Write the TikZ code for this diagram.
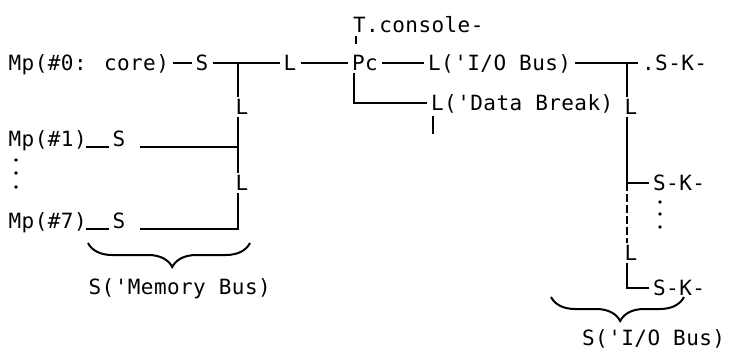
\documentclass[tikz,border=0pt]{standalone}
\usepackage{fontspec}
\usepackage{tikz}
\usetikzlibrary{calc, decorations.pathreplacing}
\newfontfamily\typ{DejaVu Sans Mono}[LetterSpace=2, Ligatures=TeXOff]
\newcommand\typsize{\fontsize{21pt}{24pt}\selectfont}
\tikzset{
    pmsbox/.style={font=\typ\typsize, inner xsep=4pt, inner ysep=0pt,
        text height=15pt, text depth=0pt, anchor=west},
    linkbox/.style={pmsbox, inner ysep=2pt, anchor=center},
    busline/.style={line width=2pt},
    busbrace/.style={line width=2pt, decorate,
        decoration={brace, mirror, amplitude=24pt, aspect=0.52}}
}

\begin{document}
\begin{tikzpicture}[x=1pt, y=-1pt]
    \useasboundingbox (0,0) rectangle (729,350);
    % --- 1. 行高與匯流排位置 ---
    \def\yT{25}
    \def\yA{63}
    \def\yB{103}
    \def\yC{139}
    \def\yD{221}
    \def\xM{238}
    \def\xI{627}

    % --- 2. 第一行: Mp, S, L, Pc, L, S-K ---
    \node[pmsbox] (tcon) at (349,\yT) {T.console-};
    \node[pmsbox] (mp0) at (4.5,\yA) {Mp(\#0: core)};
    \node[pmsbox] (s0) at (191.5,\yA) {S};
    \coordinate (mb0) at (\xM,\yA);
    \node[pmsbox] (l0) at (279.5,\yA) {L};
    \node[pmsbox] (pc) at (348,\yA) {Pc};
    \node[pmsbox] (lio) at (424,\yA) {L('I/O Bus)};
    \coordinate (iob0) at (\xI,\yA);
    \node[pmsbox] (sk0) at (638,\yA) {.S-K-};
    \node[pmsbox] (ldb) at (427,\yB) {L('Data Break)};

    % --- 3. 記憶體匯流排 ---
    \node[linkbox] (lm1) at (\xM+4,107) {L};
    \node[linkbox] (lm2) at (\xM+4,183) {L};
    \node[pmsbox] (mp1) at (4.5,\yC) {Mp(\#1)};
    \node[pmsbox] (s1) at (108.5,\yC) {S};
    \node[pmsbox] (mp7) at (4.5,\yD) {Mp(\#7)};
    \node[pmsbox] (s7) at (108.5,\yD) {S};
    \node[pmsbox] (smb) at (84.5,287) {S('Memory Bus)};

    % --- 4. I/O 匯流排 ---
    \node[linkbox] (lio1) at (\xI+4,107) {L};
    \node[linkbox] (lio2) at (\xI+4,253) {L};
    \node[pmsbox] (sk1) at (649,183) {S-K-};
    \node[pmsbox] (sk2) at (649,288) {S-K-};
    \node[pmsbox] (sio) at (578,338) {S('I/O Bus)};

    % --- 5. 連線 ---
    \draw[busline] (mp0) -- (s0);
    \draw[busline] (s0) -- (l0);
    \draw[busline] (l0) -- (pc);
    \draw[busline] (pc) -- (lio);
    \draw[busline] (lio) -- (sk0);
    \draw[busline] ([xshift=7pt]tcon.south west) ++(0,3) -- ++(0,8);
    \draw[busline] ([xshift=6pt]pc.south west) ++(0,2) |- (ldb);
    \draw[busline] ([xshift=6pt]ldb.south west) ++(0,5) -- ++(0,18);

    \draw[busline] (mb0) -- (lm1.north -| mb0);
    \draw[busline] (lm1.south -| mb0) -- (lm2.north -| mb0);
    \draw[busline, shorten >=10pt] (lm2.south -| mb0) |- (s7.south east);
    \draw[busline, shorten <=10pt] (s1.south east) -- (s1.south east -| mb0);
    \draw[busline, shorten <=-5pt] (mp1.south east) -- (s1.south west);
    \draw[busline, shorten <=-5pt] (mp7.south east) -- (s7.south west);

    \draw[busline] (iob0) -- (lio1.north -| iob0);
    \draw[busline] (lio1.south -| iob0) -- (sk1.west -| iob0);
    \draw[busline, dash pattern=on 8pt off 3pt] (sk1.west -| iob0) -- (lio2.north -| iob0);
    \draw[busline] (sk1.west -| iob0) -- (sk1);
    \draw[busline] (lio2.south -| iob0) |- (sk2);

    % --- 6. 省略點與大括號 ---
    \foreach \y in {160,173,187} \fill (16,\y) circle (1.8pt);
    \foreach \y in {202,214,227} \fill (660,\y) circle (1.8pt);
    \draw[busbrace] (88,243) -- (250,243);
    \draw[busbrace] (551,297) -- (684,297);
\end{tikzpicture}
\end{document}
